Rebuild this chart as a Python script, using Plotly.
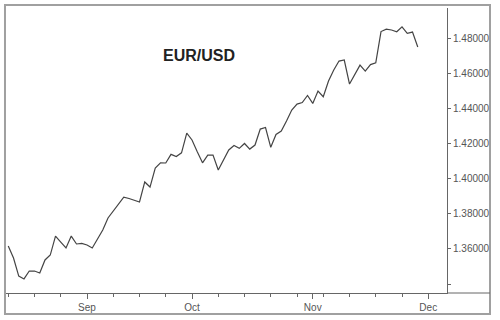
import pandas as pd
import plotly.graph_objects as go

# Trading days (weekdays) starting Mon 13 Aug 2007
start_date = "2007-08-13"
rates = [
    1.3616, 1.3548, 1.3445, 1.3429, 1.3474, 1.3474, 1.3463, 1.3537, 1.3565, 1.3673,
    1.3639, 1.3605, 1.3673, 1.3628, 1.3631, 1.3622, 1.3605, 1.3656, 1.3707, 1.3776,
    1.3816, 1.3850, 1.3895, 1.3887, 1.3878, 1.3867, 1.3981, 1.3952, 1.4060, 1.4090,
    1.4089, 1.4138, 1.4126, 1.4147, 1.4259, 1.4220, 1.4153, 1.4090, 1.4134, 1.4134,
    1.4049, 1.4106, 1.4163, 1.4188, 1.4172, 1.4200, 1.4168, 1.4191, 1.4282, 1.4291,
    1.4178, 1.4251, 1.4271, 1.4328, 1.4390, 1.4424, 1.4433, 1.4473, 1.4428, 1.4498,
    1.4466, 1.4555, 1.4618, 1.4669, 1.4675, 1.4538, 1.4595, 1.4646, 1.4612, 1.4649,
    1.4659, 1.4837, 1.4851, 1.4846, 1.4836, 1.4864, 1.4827, 1.4834, 1.4749,
]
dates = pd.bdate_range(start_date, periods=len(rates))

month_ticks = ["2007-09-03", "2007-10-01", "2007-11-01", "2007-12-03"]
month_labels = ["Sep", "Oct", "Nov", "Dec"]
week_ticks = [d.strftime("%Y-%m-%d") for d in pd.date_range("2007-08-13", "2007-12-03", freq="W-MON")]

y_ticks = [1.34, 1.36, 1.38, 1.40, 1.42, 1.44, 1.46, 1.48]
y_labels = ["", "1.36000", "1.38000", "1.40000", "1.42000", "1.44000", "1.46000", "1.48000"]

fig = go.Figure()
fig.add_trace(go.Scatter(
    x=dates, y=rates, mode="lines",
    line=dict(color="#444444", width=1.2),
    showlegend=False,
))

fig.update_layout(
    width=500, height=320,
    margin=dict(l=6, r=53, t=8, b=27),
    paper_bgcolor="white", plot_bgcolor="white",
    font=dict(family="Liberation Sans, Arial, sans-serif", size=10, color="#555555"),
    xaxis=dict(
        type="date",
        rangebreaks=[dict(bounds=["sat", "mon"])],
        range=["2007-08-10 13:40", "2007-12-06 13:40"],
        tickmode="array", tickvals=month_ticks, ticktext=month_labels,
        ticks="outside", ticklen=5, tickcolor="#666666",
        minor=dict(tickmode="array", tickvals=week_ticks, ticks="outside", ticklen=3, tickcolor="#666666"),
        showgrid=False, zeroline=False,
        showline=True, linecolor="#666666", linewidth=1,
        tickfont=dict(size=10, color="#555555"),
    ),
    yaxis=dict(
        side="right",
        range=[1.3349, 1.4971],
        tickmode="array", tickvals=y_ticks, ticktext=y_labels,
        ticks="outside", ticklen=3, tickcolor="#666666",
        showgrid=False, zeroline=False,
        showline=True, linecolor="#666666", linewidth=1,
        tickfont=dict(size=10, color="#555555"),
    ),
    annotations=[dict(
        text="<b>EUR/USD</b>", x=0.4376, y=0.835, xref="paper", yref="paper",
        showarrow=False, xanchor="center", yanchor="middle",
        font=dict(family="Liberation Sans, Arial, sans-serif", size=16, color="#222222"),
    )],
    shapes=[
        dict(type="rect", xref="paper", yref="paper", x0=-0.0023, x1=1.0975, y0=-0.0737, y1=1.0105,
             line=dict(color="#a0a0a0", width=2), layer="above"),
        dict(type="line", xref="paper", yref="paper", x0=1.0, x1=1.0975, y0=0, y1=0,
             line=dict(color="#666666", width=1)),
    ],
)

fig.write_html("out.html")
